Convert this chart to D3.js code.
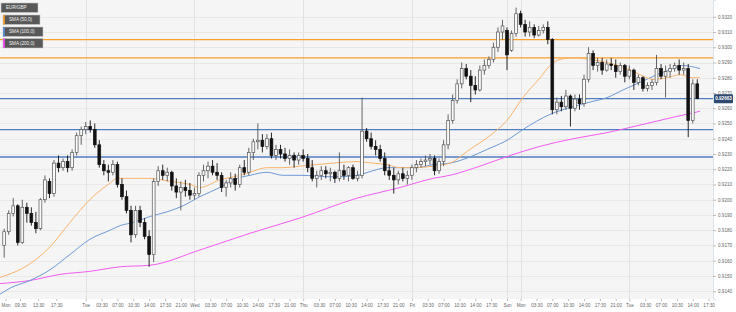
<!DOCTYPE html>
<html>
<head>
<meta charset="utf-8">
<script src="https://cdnjs.cloudflare.com/ajax/libs/d3/7.8.5/d3.min.js"></script>
<style>
body{margin:0;background:#fff;}
svg{display:block;font-family:"Liberation Sans",Arial,sans-serif;}
</style>
</head>
<body>
<svg class="one"></svg>
<script>
// hourly EUR/GBP candles, hour counted in trading time from the first Mon 00:00 (weekend cut out)
var firstHour = 6;

var opens = [0.9170,0.9179,0.9191,0.9196,0.9172,0.9195,0.9191,0.9185,0.9181,0.9200,0.9212,0.9204,0.9224,0.9221,0.9225,0.9221,0.9231,0.9242,
0.9246,0.9248,0.9246,0.9236,0.9223,0.9219,0.9218,0.9223,0.9210,0.9202,0.9193,0.9177,0.9193,0.9185,0.9176,0.9164,0.9212,0.9219,0.9216,0.9218,0.9209,0.9205,0.9208,0.9206,
0.9203,0.9204,0.9216,0.9219,0.9222,0.9218,0.9216,0.9208,0.9211,0.9214,0.9210,0.9221,0.9218,0.9231,0.9238,0.9239,0.9235,0.9240,0.9229,0.9233,0.9230,0.9227,0.9229,0.9226,
0.9229,0.9227,0.9221,0.9214,0.9216,0.9219,0.9217,0.9218,0.9214,0.9219,0.9216,0.9221,0.9214,0.9216,0.9245,0.9240,0.9235,0.9233,0.9227,0.9219,0.9216,0.9213,0.9217,0.9214,
0.9216,0.9221,0.9223,0.9225,0.9226,0.9227,0.9219,0.9225,0.9236,0.9252,0.9265,0.9276,0.9286,0.9281,0.9275,0.9272,0.9285,0.9288,0.9292,0.9300,0.9310,
0.9311,0.9298,0.9309,
0.9322,0.9315,0.9310,0.9313,0.9308,0.9311,0.9313,0.9305,0.9259,0.9264,0.9261,0.9268,0.9260,0.9266,0.9263,0.9279,0.9296,0.9288,0.9290,0.9285,0.9289,0.9288,0.9284,0.9288,
0.9281,0.9285,0.9277,0.9280,0.9273,0.9275,0.9277,0.9286,0.9281,0.9284,0.9286,0.9288,0.9285,0.9286,0.9252,0.9276];

var highs = [0.9181,0.9193,0.9201,0.9197,0.9200,0.9198,0.9195,0.9192,0.9201,0.9216,0.9214,0.9226,0.9229,0.9227,0.9229,0.9233,0.9244,0.9248,
0.9251,0.9252,0.9250,0.9239,0.9226,0.9223,0.9226,0.9225,0.9214,0.9206,0.9196,0.9196,0.9196,0.9188,0.9180,0.9214,0.9222,0.9223,0.9221,0.9219,0.9214,0.9212,0.9213,0.9211,
0.9208,0.9218,0.9223,0.9225,0.9226,0.9224,0.9218,0.9213,0.9218,0.9217,0.9223,0.9226,0.9234,0.9240,0.9250,0.9243,0.9243,0.9244,0.9236,0.9236,0.9234,0.9233,0.9231,0.9231,
0.9233,0.9230,0.9226,0.9219,0.9222,0.9222,0.9221,0.9219,0.9231,0.9223,0.9222,0.9223,0.9219,0.9267,0.9247,0.9244,0.9239,0.9236,0.9231,0.9223,0.9221,0.9219,0.9221,0.9219,
0.9223,0.9226,0.9227,0.9229,0.9230,0.9229,0.9227,0.9239,0.9256,0.9269,0.9279,0.9290,0.9289,0.9285,0.9281,0.9288,0.9292,0.9294,0.9303,0.9313,0.9318,
0.9313,0.9311,0.9326,
0.9324,0.9318,0.9317,0.9315,0.9314,0.9315,0.9317,0.9306,0.9267,0.9268,0.9272,0.9269,0.9269,0.9269,0.9282,0.9300,0.9298,0.9293,0.9293,0.9292,0.9293,0.9292,0.9290,0.9289,
0.9288,0.9286,0.9282,0.9281,0.9277,0.9279,0.9295,0.9289,0.9288,0.9289,0.9290,0.9292,0.9290,0.9289,0.9279,0.9279];

var lows = [0.9162,0.9177,0.9189,0.9170,0.9171,0.9185,0.9183,0.9178,0.9180,0.9198,0.9201,0.9202,0.9218,0.9219,0.9218,0.9219,0.9229,0.9236,
0.9243,0.9244,0.9234,0.9221,0.9216,0.9212,0.9216,0.9208,0.9200,0.9191,0.9172,0.9175,0.9182,0.9174,0.9156,0.9159,0.9209,0.9213,0.9212,0.9206,0.9201,0.9193,0.9202,0.9200,
0.9200,0.9202,0.9212,0.9214,0.9216,0.9213,0.9205,0.9202,0.9208,0.9206,0.9208,0.9216,0.9216,0.9226,0.9233,0.9231,0.9233,0.9227,0.9226,0.9227,0.9225,0.9223,0.9221,0.9223,
0.9225,0.9218,0.9212,0.9208,0.9213,0.9214,0.9212,0.9211,0.9212,0.9213,0.9212,0.9213,0.9212,0.9214,0.9238,0.9233,0.9229,0.9225,0.9216,0.9213,0.9204,0.9210,0.9212,0.9210,
0.9213,0.9218,0.9221,0.9222,0.9223,0.9216,0.9217,0.9222,0.9233,0.9250,0.9263,0.9273,0.9279,0.9264,0.9269,0.9271,0.9282,0.9286,0.9290,0.9297,0.9305,
0.9285,0.9297,0.9307,
0.9313,0.9307,0.9307,0.9306,0.9307,0.9309,0.9302,0.9256,0.9256,0.9258,0.9259,0.9248,0.9258,0.9259,0.9261,0.9277,0.9285,0.9284,0.9282,0.9284,0.9285,0.9280,0.9282,0.9277,
0.9279,0.9272,0.9275,0.9271,0.9271,0.9272,0.9275,0.9279,0.9267,0.9280,0.9284,0.9282,0.9282,0.9241,0.9250,0.9266];

var closes = [0.9179,0.9191,0.9196,0.9172,0.9195,0.9191,0.9185,0.9181,0.9200,0.9213,0.9204,0.9224,0.9221,0.9225,0.9221,0.9231,0.9242,0.9246,
0.9248,0.9246,0.9236,0.9223,0.9219,0.9218,0.9223,0.9210,0.9202,0.9193,0.9177,0.9193,0.9185,0.9176,0.9164,0.9212,0.9219,0.9216,0.9218,0.9209,0.9205,0.9208,0.9206,0.9203,
0.9204,0.9216,0.9219,0.9222,0.9218,0.9216,0.9208,0.9211,0.9214,0.9210,0.9221,0.9218,0.9231,0.9238,0.9239,0.9235,0.9240,0.9229,0.9233,0.9230,0.9227,0.9229,0.9226,0.9229,
0.9227,0.9221,0.9214,0.9216,0.9219,0.9217,0.9218,0.9214,0.9219,0.9216,0.9221,0.9214,0.9216,0.9245,0.9240,0.9235,0.9233,0.9227,0.9219,0.9216,0.9213,0.9217,0.9214,0.9216,
0.9221,0.9223,0.9225,0.9226,0.9227,0.9219,0.9225,0.9236,0.9252,0.9265,0.9276,0.9286,0.9281,0.9275,0.9272,0.9285,0.9288,0.9292,0.9300,0.9310,0.9314,
0.9295,0.9309,0.9322,
0.9315,0.9310,0.9313,0.9308,0.9311,0.9313,0.9305,0.9259,0.9264,0.9261,0.9268,0.9260,0.9266,0.9263,0.9279,0.9296,0.9288,0.9290,0.9285,0.9289,0.9288,0.9284,0.9288,0.9281,
0.9285,0.9277,0.9280,0.9273,0.9275,0.9277,0.9286,0.9281,0.9284,0.9286,0.9288,0.9285,0.9286,0.9252,0.9276,0.92663];

// moving averages (hour, value)
var sma50Hours = [5.1,11.7,16.1,20.5,24.9,29.4,30.9,33.8,38.2,42.6,47,49.2,53.6,58.1,60.3,64,67.5,71.3,78.6,83.9,87.4,90.5,93.4,96.2,100.7,104.4,108.8,113.2,117,120.5,124.3,126.5,128.7,131.6,135.3,139.1,142.6,146.4,149.2,152.3,155.2,158,159.6];
var sma50 = [0.9149,0.9158,0.9169,0.9185,0.9200,0.9211,0.9214,0.9214,0.9214,0.9212,0.9210,0.9208,0.9213,0.9216,0.9218,0.9221,0.9221,0.9222,0.9224,0.9225,0.9224,0.9223,0.9221,0.9221,0.9222,0.9224,0.9233,0.9242,0.9252,0.9267,0.9280,0.9288,0.9292,0.9293,0.9292,0.9290,0.9287,0.9282,0.9279,0.9280,0.9282,0.9280,0.9280];

var sma100Hours = [5.1,7.3,11.7,16.1,20.5,24.9,29.4,31.6,34.4,38.2,41.9,45.5,49.2,53.6,56.5,60.3,64,67.5,71.3,78.6,83.9,87.4,90.5,93.4,97.1,100.7,104.4,108.8,112.6,117,120.5,126.5,131.6,135.3,139.1,142.6,146.4,150.1,153.6,155.8,159.6];
var sma100 = [0.9138,0.9142,0.9147,0.9154,0.9164,0.9174,0.9180,0.9183,0.9185,0.9189,0.9192,0.9196,0.9202,0.9208,0.9213,0.9216,0.9218,0.9216,0.9216,0.9215,0.9216,0.9219,0.9221,0.9221,0.9221,0.9223,0.9224,0.9228,0.9233,0.9239,0.9246,0.9256,0.9261,0.9264,0.9267,0.9272,0.9277,0.9282,0.9286,0.9288,0.9286];

var sma200Hours = [5.1,11.7,18.3,24.9,31.6,38.2,49.2,60.3,71.3,83.9,93.4,100.7,104.4,111,117.7,124.3,131.6,139.1,146.4,153.6,159.6];
var sma200 = [0.9145,0.9147,0.9151,0.9153,0.9156,0.9157,0.9167,0.9178,0.9188,0.9201,0.9208,0.9214,0.9216,0.9222,0.9229,0.9235,0.9240,0.9244,0.9249,0.9254,0.9258];

// drawn levels
var orangeLevels = [0.9305,0.9293];
var blueLevels = [0.92663,0.9246,0.9228];

var priceTicks = [0.9140,0.9150,0.9160,0.9170,0.9180,0.9190,0.9200,0.9210,0.9220,0.9230,0.9240,0.9250,0.9260,0.9270,0.9280,0.9290,0.9300,0.9310,0.9320];

var tickHours = [6.3,9.5,13.5,17.5,
  24,27.5,31,34.5,38,41.5,45,
  48,51.5,55,58.5,62,65.5,69,
  72,75.5,79,82.5,86,89.5,93,
  96,99.5,103,106.5,110,113.5,
  117,120,123.5,127,130.5,134,137.5,141,
  144,147.5,151,154.5,158,161.5];
var tickLabels = ["Mon","09:30","13:30","17:30",
  "Tue","03:30","07:00","10:30","14:00","17:30","21:00",
  "Wed","03:30","07:00","10:30","14:00","17:30","21:00",
  "Thu","03:30","07:00","10:30","14:00","17:30","21:00",
  "Fri","03:30","07:00","10:30","14:00","17:30",
  "Sun","Mon","03:30","07:00","10:30","14:00","17:30","21:00",
  "Tue","03:30","07:00","10:30","14:00","17:30"];
var dayHours = [24,48,72,96,117,120,144];

var legendNames = ["EUR/GBP","SMA (50,0)","SMA (100,0)","SMA (200,0)"];
var legendColors = [null,"#f5a033","#5b8ccc","#f04ef0"];

var screen = {width:736,height:312};
var plotW = 713, plotH = 299;

var svg = d3.select(".one")
  .attr("width",screen.width)
  .attr("height",screen.height);

var xScale = d3.scaleLinear().domain([5.08,162.47]).range([0,plotW]);
var yScale = d3.scaleLinear().domain([0.913486,0.9331]).range([plotH,0]);

svg.append("defs").append("clipPath").attr("id","clip")
  .append("rect").attr("width",plotW).attr("height",plotH);

svg.append("rect").attr("width",screen.width).attr("height",screen.height).attr("fill","#fff");
svg.append("rect").attr("width",plotW).attr("height",plotH).attr("fill","#f5f5f5");

var plot = svg.append("g").attr("clip-path","url(#clip)");

//grid
plot.selectAll(".hgrid").data(priceTicks).enter().append("line")
  .attr("x1",0).attr("x2",plotW)
  .attr("y1",function(d){return Math.round(yScale(d))+0.5})
  .attr("y2",function(d){return Math.round(yScale(d))+0.5})
  .attr("stroke","#e8e8e8").attr("stroke-width",1);

plot.selectAll(".vgrid").data(dayHours).enter().append("line")
  .attr("y1",0).attr("y2",plotH)
  .attr("x1",function(d){return Math.round(xScale(d))+0.5})
  .attr("x2",function(d){return Math.round(xScale(d))+0.5})
  .attr("stroke","#e2e2e2").attr("stroke-width",1);

// level lines
plot.selectAll(".olevel").data(orangeLevels).enter().append("line")
  .attr("x1",0).attr("x2",plotW)
  .attr("y1",function(d){return yScale(d)}).attr("y2",function(d){return yScale(d)})
  .attr("stroke","#f7a02a").attr("stroke-width",1.3);

plot.selectAll(".blevel").data(blueLevels).enter().append("line")
  .attr("x1",0).attr("x2",plotW)
  .attr("y1",function(d){return yScale(d)}).attr("y2",function(d){return yScale(d)})
  .attr("stroke","#4f7dbd").attr("stroke-width",1.3);

// moving averages
var smaLine = d3.line()
  .x(function(d){return xScale(d[0])})
  .y(function(d){return yScale(d[1])})
  .curve(d3.curveMonotoneX);

var smas = [
  {hours:sma200Hours, vals:sma200, color:"#f25cf2"},
  {hours:sma100Hours, vals:sma100, color:"#6e9ad6"},
  {hours:sma50Hours, vals:sma50, color:"#f9b46c"}
];
smas.forEach(function(s){
  plot.append("path")
    .datum(d3.zip(s.hours,s.vals))
    .attr("d",smaLine)
    .attr("fill","none")
    .attr("stroke",s.color)
    .attr("stroke-width",1);
});

// candles
var candles = closes.map(function(c,i){
  return {h:firstHour+i, o:opens[i], hi:highs[i], lo:lows[i], c:c};
});
var bodyW = (xScale(1)-xScale(0))*0.62;

var cg = plot.selectAll(".candle").data(candles).enter().append("g");
cg.append("line")
  .attr("x1",function(d){return xScale(d.h)}).attr("x2",function(d){return xScale(d.h)})
  .attr("y1",function(d){return yScale(d.hi)}).attr("y2",function(d){return yScale(d.lo)})
  .attr("stroke",function(d){return d.c>=d.o ? "#555" : "#111"})
  .attr("stroke-width",0.9);
cg.append("rect")
  .attr("x",function(d){return xScale(d.h)-bodyW/2})
  .attr("width",bodyW)
  .attr("y",function(d){return yScale(Math.max(d.o,d.c))})
  .attr("height",function(d){return Math.max(0.8,Math.abs(yScale(d.o)-yScale(d.c)))})
  .attr("fill",function(d){return d.c>=d.o ? "#fafafa" : "#111"})
  .attr("stroke",function(d){return d.c>=d.o ? "#555" : "#111"})
  .attr("stroke-width",0.7);

// right axis
var yAxis = d3.axisRight(yScale).tickValues(priceTicks).tickFormat(d3.format(".4f")).tickSize(3).tickPadding(2);
var ya = svg.append("g").attr("transform","translate("+plotW+",0)").call(yAxis);
ya.select(".domain").attr("stroke","#dde3ea");
ya.selectAll(".tick line").attr("stroke","#bbb");
ya.selectAll("text").attr("font-size","4.6px").attr("fill","#666");

// bottom axis
var xAxis = d3.axisBottom(xScale).tickValues(tickHours)
  .tickFormat(function(d,i){return tickLabels[i]}).tickSize(2).tickPadding(3);
var xa = svg.append("g").attr("transform","translate(0,"+plotH+")").call(xAxis);
xa.select(".domain").remove();
xa.selectAll(".tick line").attr("stroke","#bbb");
xa.selectAll("text").attr("font-size","4.6px").attr("fill","#666");

// last price tag
var last = closes[closes.length-1];
var tag = svg.append("g").attr("transform","translate("+(plotW+1)+","+yScale(last)+")");
tag.append("rect").attr("x",0).attr("y",-4.5).attr("width",19).attr("height",9).attr("rx",1)
  .attr("fill","#2e4a6f");
tag.append("text").attr("x",9.5).attr("y",1.7).attr("text-anchor","middle")
  .attr("font-size","4.6px").attr("font-weight","bold").attr("fill","#fff")
  .text(d3.format(".5f")(last));

// legend
var legend = svg.append("g").attr("transform","translate(1,3)");
var items = legend.selectAll("g").data(legendNames).enter().append("g")
  .attr("transform",function(d,i){return "translate("+(i==0?0:2)+","+[0,12,24,35.5][i]+")"});
items.append("rect")
  .attr("width",function(d,i){return [37,37,40,40][i]})
  .attr("height",9.5)
  .attr("fill","#585858").attr("stroke","#c8c8c8").attr("stroke-width",0.6);
items.filter(function(d,i){return legendColors[i]})
  .append("rect").attr("width",1.8).attr("height",9.5)
  .attr("fill",function(d){return legendColors[legendNames.indexOf(d)]});
items.append("text").attr("x",function(d,i){return i==0?5:6}).attr("y",6.4)
  .attr("font-size","4.6px").attr("fill","#f2f2f2")
  .text(function(d){return d});
</script>
</body>
</html>
